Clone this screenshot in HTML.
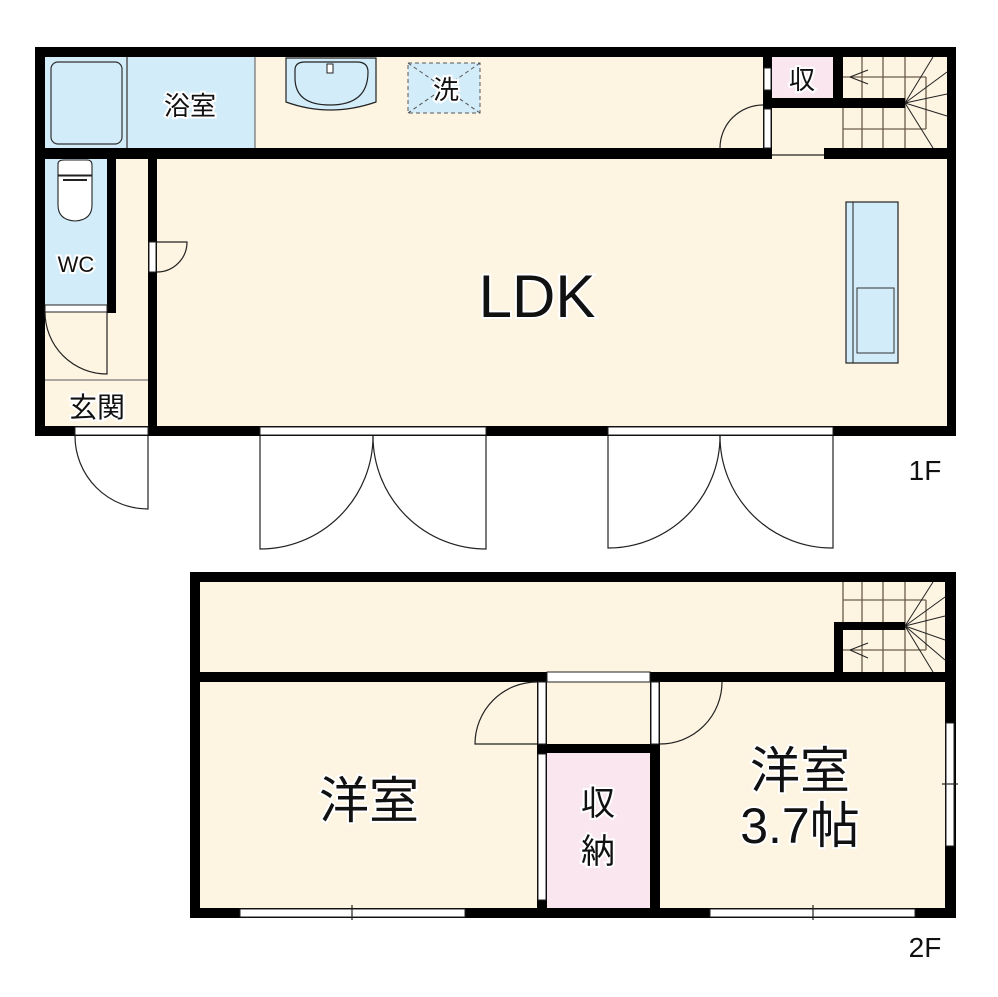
<!DOCTYPE html>
<html><head><meta charset="utf-8"><style>
html,body{margin:0;padding:0;background:#fff}
svg{display:block}
text{font-family:"Liberation Sans","Noto Sans CJK JP",sans-serif;fill:#111;stroke:#fff;stroke-width:4;paint-order:stroke}
</style></head><body>
<svg width="998" height="997" viewBox="0 0 998 997" xmlns="http://www.w3.org/2000/svg">
<!-- 1F floors -->
<rect x="40" y="52" width="912" height="380" fill="#fdf4e2"/>
<rect x="45" y="57" width="210" height="91" fill="#d2edf9"/>
<line x1="127" y1="57" x2="127" y2="148" stroke="#555" stroke-width="1.5"/>
<rect x="51" y="62" width="71" height="82" rx="7" fill="#d2edf9" stroke="#333" stroke-width="1.2"/>
<line x1="255" y1="57" x2="255" y2="148" stroke="#555" stroke-width="1"/>
<rect x="45" y="159" width="62" height="146" fill="#d2edf9"/>
<rect x="772" y="57" width="61" height="41" fill="#fae6ef"/>
<!-- sink -->
<path d="M286 58 H376 V102 Q330 118 286 102 Z" fill="#d2edf9" stroke="#222" stroke-width="1.2"/>
<path d="M295 70 Q295 62 305 62 H357 Q368 62 368 72 Q368 105 330 105 Q295 105 295 78 Z" fill="#d2edf9" stroke="#222" stroke-width="1.2"/>
<rect x="327" y="64" width="6" height="9" fill="#fff" stroke="#222" stroke-width="1"/>
<!-- washer -->
<rect x="408" y="63" width="72" height="50" fill="#d2edf9" stroke="#555" stroke-width="1" stroke-dasharray="4,3"/>
<line x1="408" y1="63" x2="480" y2="113" stroke="#555" stroke-width="1" stroke-dasharray="4,3"/>
<line x1="480" y1="63" x2="408" y2="113" stroke="#555" stroke-width="1" stroke-dasharray="4,3"/>
<!-- toilet -->
<path d="M58 164 Q58 160 64 160 H87 Q92 160 92 165 V175 H58 Z" fill="#fff" stroke="#222" stroke-width="1.1"/>
<path d="M58 176 H92 V205 Q92 220 75 221 Q58 220 58 205 Z" fill="#fff" stroke="#222" stroke-width="1.1"/>
<line x1="63" y1="180" x2="87" y2="180" stroke="#222" stroke-width="2"/>
<!-- kitchen -->
<rect x="846" y="202" width="52" height="161" fill="#d2edf9" stroke="#222" stroke-width="1.2"/>
<line x1="853" y1="202" x2="853" y2="363" stroke="#222" stroke-width="1"/>
<rect x="857" y="288" width="37" height="65" fill="#d2edf9" stroke="#333" stroke-width="1"/>
<!-- stairs 1F -->
<g stroke="#6b5e48" stroke-width="1.3" fill="none">
<line x1="862" y1="57" x2="862" y2="148"/><line x1="883" y1="57" x2="883" y2="148"/><line x1="905" y1="57" x2="905" y2="148"/>
<line x1="843" y1="77" x2="926" y2="77"/><line x1="843" y1="129" x2="926" y2="129"/><line x1="926" y1="77" x2="926" y2="129"/>
<line x1="843" y1="108" x2="843" y2="148"/>
</g>
<g stroke="#222" stroke-width="1" fill="none">
<line x1="905" y1="103" x2="933" y2="57"/><line x1="905" y1="103" x2="947" y2="72"/><line x1="905" y1="103" x2="947" y2="94"/>
<line x1="905" y1="103" x2="947" y2="116"/><line x1="905" y1="103" x2="933" y2="148"/>
<line x1="850" y1="77" x2="868" y2="70"/><line x1="850" y1="77" x2="868" y2="84"/>
</g>
<!-- 1F walls -->
<g fill="#000">
<rect x="35" y="47" width="921" height="10"/>
<rect x="35" y="47" width="10" height="389"/>
<rect x="947" y="47" width="9" height="389"/>
<rect x="35" y="426" width="921" height="10"/>
<rect x="35" y="148" width="737" height="11"/>
<rect x="824" y="148" width="132" height="11"/>
<rect x="107" y="159" width="9" height="154"/>
<rect x="148" y="159" width="9" height="277"/>
<rect x="763" y="57" width="9" height="91"/>
<rect x="833" y="57" width="10" height="51"/>
<rect x="763" y="98" width="142" height="10"/>
</g>
<g fill="#fff" stroke="#222" stroke-width="1">
<rect x="764" y="68" width="7" height="22"/>
<rect x="764" y="109" width="7" height="39"/>
<rect x="149" y="242" width="7" height="30"/>
<rect x="45" y="305" width="62" height="7"/>
<rect x="75" y="427" width="73" height="8"/>
<rect x="260" y="427" width="226" height="8"/>
<rect x="608" y="427" width="225" height="8"/>
</g>
<g stroke="#222" stroke-width="1.2" fill="none">
<line x1="772" y1="155" x2="824" y2="155"/>
<path d="M720 148 A43 43 0 0 1 763 105"/>
<path d="M772 90 A11 11 0 0 1 772 90"/>
<path d="M157 272 A30 30 0 0 0 187 242 H157"/>
<line x1="45" y1="380" x2="148" y2="380" stroke="#777"/>
<path d="M45 312 A62 62 0 0 0 107 374 V312"/>
<path d="M75 436 A73 73 0 0 0 148 509 V436"/>
<path d="M373 436 A113 113 0 0 1 260 549 V436"/>
<path d="M373 436 A113 113 0 0 0 486 549 V436"/>
<path d="M720 436 A112 112 0 0 1 608 548 V436"/>
<path d="M720 436 A112 112 0 0 0 833 548 V436"/>
</g>
<!-- 2F -->
<rect x="195" y="577" width="755" height="336" fill="#fdf4e2"/>
<rect x="547" y="753" width="103" height="155" fill="#fae6ef"/>
<g stroke="#6b5e48" stroke-width="1.3" fill="none">
<line x1="843" y1="582" x2="843" y2="622"/><line x1="862" y1="582" x2="862" y2="672"/><line x1="883" y1="582" x2="883" y2="672"/><line x1="905" y1="582" x2="905" y2="672"/>
<line x1="843" y1="600" x2="926" y2="600"/><line x1="843" y1="650" x2="926" y2="650"/><line x1="926" y1="600" x2="926" y2="650"/>
</g>
<g stroke="#222" stroke-width="1" fill="none">
<line x1="905" y1="626" x2="933" y2="582"/><line x1="905" y1="626" x2="945" y2="597"/><line x1="905" y1="626" x2="945" y2="616"/>
<line x1="905" y1="626" x2="945" y2="640"/><line x1="905" y1="626" x2="945" y2="660"/><line x1="905" y1="626" x2="933" y2="672"/>
<line x1="850" y1="650" x2="868" y2="643"/><line x1="850" y1="650" x2="868" y2="658"/>
</g>
<g fill="#000">
<rect x="190" y="572" width="766" height="10"/>
<rect x="190" y="572" width="10" height="346"/>
<rect x="945" y="572" width="11" height="346"/>
<rect x="190" y="908" width="766" height="10"/>
<rect x="190" y="672" width="766" height="10"/>
<rect x="834" y="622" width="9" height="50"/>
<rect x="834" y="622" width="71" height="8"/>
<rect x="537" y="682" width="10" height="236"/>
<rect x="650" y="682" width="10" height="236"/>
<rect x="537" y="744" width="123" height="9"/>
</g>
<g fill="#fff" stroke="#222" stroke-width="1">
<rect x="547" y="672" width="103" height="10"/>
<rect x="538" y="682" width="8" height="62"/>
<rect x="651" y="682" width="8" height="62"/>
<rect x="538" y="754" width="8" height="146"/>
<rect x="240" y="909" width="225" height="8"/>
<rect x="710" y="909" width="205" height="8"/>
<rect x="946" y="723" width="8" height="123"/>
</g>
<g stroke="#222" stroke-width="1.2" fill="none">
<line x1="352" y1="905" x2="352" y2="920"/><line x1="813" y1="905" x2="813" y2="920"/><line x1="942" y1="784" x2="958" y2="784"/>
<path d="M537 682 A62 62 0 0 0 475 744 H537"/>
<path d="M722 682 A62 62 0 0 1 660 744"/>
</g>
<!-- labels -->
<text x="190" y="115" font-size="26" text-anchor="middle">浴室</text>
<text x="446" y="99" font-size="26" text-anchor="middle">洗</text>
<text x="802" y="89" font-size="26" text-anchor="middle">収</text>
<text x="76" y="272" font-size="22" text-anchor="middle">WC</text>
<text x="97" y="417" font-size="28" text-anchor="middle">玄関</text>
<text x="537" y="317" font-size="60" text-anchor="middle">LDK</text>
<text x="925" y="480" font-size="28" text-anchor="middle" stroke="none">1F</text>
<text x="925" y="957" font-size="28" text-anchor="middle" stroke="none">2F</text>
<text x="369" y="818" font-size="50" text-anchor="middle">洋室</text>
<text x="800" y="788" font-size="50" text-anchor="middle">洋室</text>
<text x="800" y="843" font-size="50" text-anchor="middle">3.7帖</text>
<text x="598" y="815" font-size="34" text-anchor="middle">収</text>
<text x="598" y="863" font-size="34" text-anchor="middle">納</text>
</svg>
</body></html>
